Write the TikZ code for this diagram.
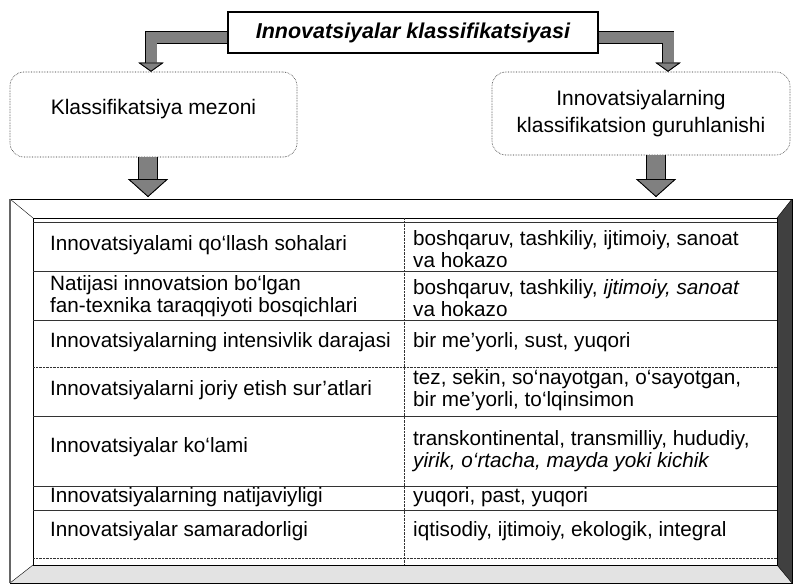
\documentclass[tikz,border=0pt]{standalone}
\usepackage{fontspec}
\setmainfont{Liberation Sans}
\usetikzlibrary{arrows.meta}

\tikzset{
  titlebox/.style={draw, line width=1.4pt, inner sep=0pt,
    minimum width=370pt, minimum height=41pt,
    font=\fontsize{21.5}{25}\selectfont\bfseries\itshape},
  groupbox/.style={draw=black!85, densely dotted, line width=0.6pt,
    rounded corners=14pt, inner sep=0pt, align=center,
    font=\fontsize{21}{27}\selectfont},
  celltext/.style={anchor=west, align=left, inner sep=0pt,
    font=\fontsize{20.7}{21.5}\selectfont},
  elbowarrow/.style={draw=black!50, line width=11pt,
    preaction={draw=black, line width=12.6pt},
    -{Triangle[length=9pt,width=25pt,fill=black!50,color=black,line width=0.8pt]}},
  downarrow/.style={draw=black!50, line width=18pt,
    preaction={draw=black, line width=19.6pt},
    -{Triangle[length=18pt,width=40pt,fill=black!50,color=black,line width=0.8pt]}},
  rowline/.style={draw=black!80, thin}
}

\begin{document}
\begin{tikzpicture}[x=1pt,y=-1pt]
  \useasboundingbox (0,0) rectangle (794,583);

  % frame of the table
  \fill[white] (10,199) -- (792,199) -- (777,218) -- (33,218) -- cycle;
  \fill[gray!22] (10,583) -- (33,565) -- (777,565) -- (792,583) -- cycle;
  \fill[black!75] (792,199) -- (792,583) -- (777,565) -- (777,218) -- cycle;
  \draw[thin] (10,199) -- (792,199) -- (792,583) -- (10,583) -- cycle;
  \draw[thin] (10,199) -- (33,218) (792,199) -- (777,218)
              (10,583) -- (33,565) (792,583) -- (777,565);
  \draw[line width=2.5pt, black!60] (10,199) -- (10,583);
  \draw[thin] (33,218) rectangle (777,565);

  % rows and columns
  \draw[rowline] (33,222) -- (777,222);
  \draw[rowline] (33,271) -- (777,271);
  \draw[rowline] (33,320) -- (777,320);
  \draw[rowline, densely dotted] (33,367) -- (777,367);
  \draw[rowline] (33,416) -- (777,416);
  \draw[rowline] (33,486) -- (777,486);
  \draw[rowline] (33,510) -- (777,510);
  \draw[rowline, densely dotted] (33,558) -- (777,558);
  \draw[rowline, densely dotted] (404,218) -- (404,565);

  % top part
  \node[titlebox] (title) at (413,32.5) {Innovatsiyalar klassifikatsiyasi};
  \node[groupbox, minimum width=287pt, minimum height=85pt, text depth=16pt] (mezon)
    at (153.5,114.5) {Klassifikatsiya mezoni};
  \node[groupbox, minimum width=298pt, minimum height=83pt] (guruh) at (641,113.5)
    {Innovatsiyalarning\\klassifikatsion guruhlanishi};

  \coordinate (mezontip) at (148,197);
  \coordinate (guruhtip) at (656,197);

  \draw[elbowarrow] ([yshift=-5pt]title.west) -| ([xshift=-2.5pt]mezon.north);
  \draw[elbowarrow] ([yshift=-5pt]title.east) -| ([xshift=27pt]guruh.north);
  \draw[downarrow] (mezon.south -| mezontip) -- (mezontip);
  \draw[downarrow] (guruh.south -| guruhtip) -- (guruhtip);

  % cells
  \begin{scope}[every node/.style={celltext}]
    \node (c1) at (50,245) {Innovatsiyalami qo‘llash sohalari};
    \node (c2) at (50,296) {Natijasi innovatsion bo‘lgan\\fan-texnika taraqqiyoti bosqichlari};
    \node (c3) at (50,342) {Innovatsiyalarning intensivlik darajasi};
    \node (c4) at (50,390) {Innovatsiyalarni joriy etish sur’atlari};
    \node (c5) at (50,447) {Innovatsiyalar ko‘lami};
    \node (c6) at (50,497) {Innovatsiyalarning natijaviyligi};
    \node (c7) at (50,531) {Innovatsiyalar samaradorligi};

    \node (g1) at (413,249) {boshqaruv, tashkiliy, ijtimoiy, sanoat\\va hokazo};
    \node (g2) at (413,298) {boshqaruv, tashkiliy, \textit{ijtimoiy, sanoat}\\va hokazo};
    \node (g3) at (413,342) {bir me’yorli, sust, yuqori};
    \node (g4) at (413,390) {tez, sekin, so‘nayotgan, o‘sayotgan,\\bir me’yorli, to‘lqinsimon};
    \node (g5) at (413,451) {transkontinental, transmilliy, hududiy,\\\textit{yirik, o‘rtacha, mayda yoki kichik}};
    \node (g6) at (413,497) {yuqori, past, yuqori};
    \node (g7) at (413,531) {iqtisodiy, ijtimoiy, ekologik, integral};
  \end{scope}

\end{tikzpicture}
\end{document}
